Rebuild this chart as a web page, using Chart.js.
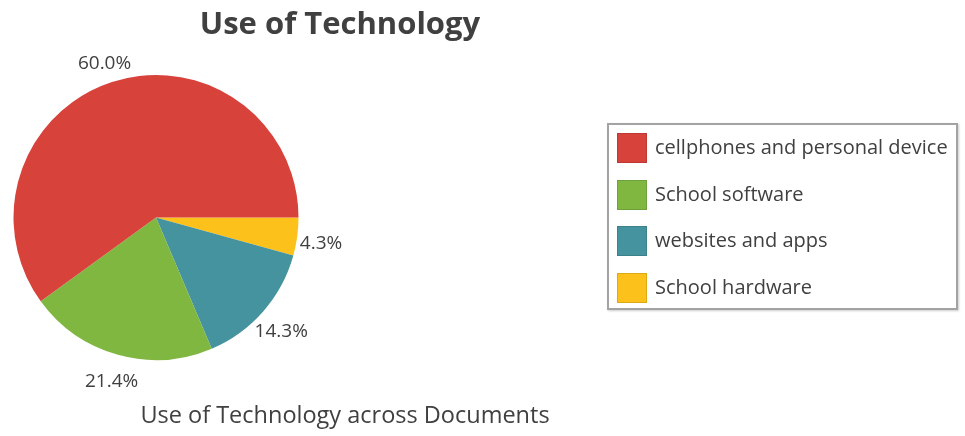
<!DOCTYPE html>
<html>
<head>
<meta charset="utf-8">
<title>Use of Technology</title>
<script src="https://cdn.jsdelivr.net/npm/chart.js@4.4.0/dist/chart.umd.min.js"></script>
<style>
body{margin:0;background:#fff;font-family:"Open Sans",sans-serif;color:#404040}
#wrap{position:relative;width:965px;height:436px;overflow:hidden}
#myChart{position:absolute;left:0;top:0}
#titulo{position:absolute;left:0;width:680px;top:0px;text-align:center;font-size:31px;font-weight:bold;line-height:44px}
#subtitulo{position:absolute;left:0;width:690px;top:397px;text-align:center;font-size:23.5px;line-height:34px}
#leyenda{position:absolute;left:607px;top:123px;width:347px;height:183px;border:2px solid #a3a3a3;box-shadow:1px 1px 2px #ccc;background:#fff}
.item{position:absolute;left:8px;height:30px;line-height:30px;font-size:20px;white-space:nowrap}
.item span{position:absolute;left:0;top:0;width:28px;height:28px;border:1px solid rgba(0,0,0,0.12)}
.item b{font-weight:normal;position:absolute;left:38px;top:-1px}
</style>
</head>
<body>
<div id="wrap">
    <canvas id="myChart" width="965" height="436"></canvas>
    <div id="titulo">Use of Technology</div>
    <div id="subtitulo">Use of Technology across Documents</div>
    <div id="leyenda"></div>
</div>
<script>
var categorias = ['cellphones and personal device', 'School software', 'websites and apps', 'School hardware'];
var porcentajes = [60.0, 21.4, 14.3, 4.3];
var colores = ['#d7423b', '#80b741', '#45939e', '#fcc21b'];

// legend box on the right, built from the same arrays
function leyenda()
{
    var html = '';
    for (var i in categorias)
    {
        html += '<div class="item" style="top:' + (8 + i * 46.7) + 'px">' +
                '<span style="background:' + colores[i] + '"></span>' +
                '<b>' + categorias[i] + '</b></div>';
    }
    document.getElementById('leyenda').innerHTML = html;
}

// percentage text just outside each slice
var etiquetas = {
    id: 'etiquetas',
    afterDatasetsDraw: function(chart)
    {
        var ctx = chart.ctx;
        var meta = chart.getDatasetMeta(0);
        var data = chart.data.datasets[0].data;
        ctx.save();
        ctx.font = '19px "Open Sans"';
        ctx.fillStyle = '#404040';
        ctx.textAlign = 'center';
        ctx.textBaseline = 'middle';
        meta.data.forEach(function(arc, i) {
            var ang = (arc.startAngle + arc.endAngle) / 2;
            var r = arc.outerRadius + 24;
            ctx.fillText(data[i].toFixed(1) + '%', arc.x + Math.cos(ang) * r, arc.y + Math.sin(ang) * r + 4);
        });
        ctx.restore();
    }
};

function grafica()
{
    // slices go clockwise from 3 o'clock, so feed them in reverse
    var chartdata = {
        labels: categorias.slice().reverse(),
        datasets: [{
            data: porcentajes.slice().reverse(),
            backgroundColor: colores.slice().reverse(),
            borderWidth: 0
        }]
    };
    new Chart(document.getElementById('myChart'), {
        type: 'pie',
        data: chartdata,
        options: {
            responsive: false,
            animation: false,
            rotation: 90,
            layout: { padding: { left: 13, right: 666, top: 75, bottom: 76 } },
            plugins: {
                legend: { display: false },
                title: { display: false },
                tooltip: { enabled: false }
            }
        },
        plugins: [etiquetas]
    });
}

leyenda();
grafica();
</script>
</body>
</html>
